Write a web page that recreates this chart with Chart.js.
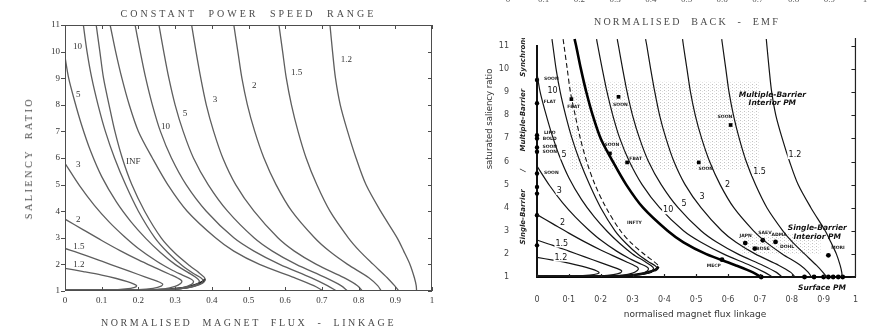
<!DOCTYPE html>
<html>
<head>
<meta charset="utf-8">
<script src="https://cdn.jsdelivr.net/npm/chart.js@4.4.1/dist/chart.umd.min.js"></script>
<style>
  html, body { margin: 0; padding: 0; background: #fff; }
  body { width: 876px; height: 330px; position: relative; overflow: hidden; }
  canvas { position: absolute; top: 0; }
  #left { left: 0; }
  #right { left: 440px; }
  .cap { position: absolute; white-space: nowrap; font-family: "Liberation Serif", "DejaVu Serif", serif;
         color: #4a4a4a; font-size: 10px; letter-spacing: 2.6px; word-spacing: 5px; line-height: 12px; }
  .sans { font-family: "DejaVu Sans", "Liberation Sans", sans-serif; letter-spacing: 0; word-spacing: 0; color: #333; }
  .rot { transform: translate(-50%, -50%) rotate(-90deg); }
  .cut { position: absolute; top: -6px; width: 30px; text-align: center; font-family: "Liberation Serif", serif;
         font-size: 9px; color: #555; line-height: 10px; }
</style>
</head>
<body>
<canvas id="left" width="440" height="330"></canvas>
<canvas id="right" width="436" height="330"></canvas>

<div class="cap" style="left:65px;width:367px;top:8px;text-align:center;letter-spacing:3px;word-spacing:6px">CONSTANT POWER SPEED RANGE</div>
<div class="cap" style="left:65px;width:367px;top:317px;text-align:center">NORMALISED MAGNET FLUX - LINKAGE</div>
<div class="cap rot" style="left:29px;top:158px">SALIENCY RATIO</div>

<div class="cap" style="left:587px;width:200px;top:16px;text-align:center;letter-spacing:2.2px">NORMALISED BACK - EMF</div>
<div class="cap sans" style="left:595px;width:200px;top:308px;text-align:center;font-size:9px">normalised magnet flux linkage</div>
<div class="cap sans rot" style="left:489px;top:119px;font-size:8.5px">saturated saliency ratio</div>

<script>
// ---- axes ----
const fluxTicks = [0, 0.1, 0.2, 0.3, 0.4, 0.5, 0.6, 0.7, 0.8, 0.9, 1];
const fluxLabelsL = ['0', '0.1', '0.2', '0.3', '0.4', '0.5', '0.6', '0.7', '0.8', '0.9', '1'];
const fluxLabelsR = ['0', '0·1', '0·2', '0·3', '0·4', '0·5', '0·6', '0·7', '0·8', '0·9', '1'];
const ratioTicks = [1, 2, 3, 4, 5, 6, 7, 8, 9, 10, 11];
const cutTopLabels = ['0', '0.1', '0.2', '0.3', '0.4', '0.5', '0.6', '0.7', '0.8', '0.9', '1'];

// ---- CPSR contours, [flux, saliency] ----
// right-hand family (ends on the saliency = 1 line)
const cpsrInf = [[0.118, 11.3], [0.123, 11], [0.138, 10], [0.155, 9], [0.175, 8], [0.2, 7], [0.238, 6], [0.28, 5], [0.333, 4], [0.41, 3], [0.46, 2.5], [0.53, 2], [0.625, 1.5], [0.678, 1.2], [0.704, 1]];
const cpsr10 = [[0.187, 11.3], [0.191, 11], [0.205, 10], [0.22, 9], [0.238, 8], [0.26, 7], [0.29, 6], [0.33, 5], [0.385, 4], [0.46, 3], [0.515, 2.5], [0.585, 2], [0.67, 1.5], [0.715, 1.2], [0.74, 1]];
const cpsr5 = [[0.252, 11.3], [0.256, 11], [0.269, 10], [0.283, 9], [0.3, 8], [0.322, 7], [0.35, 6], [0.39, 5], [0.443, 4], [0.515, 3], [0.565, 2.5], [0.63, 2], [0.71, 1.5], [0.752, 1.2], [0.77, 1]];
const cpsr3 = [[0.341, 11.3], [0.345, 11], [0.357, 10], [0.37, 9], [0.385, 8], [0.405, 7], [0.43, 6], [0.465, 5], [0.515, 4], [0.58, 3], [0.625, 2.5], [0.685, 2], [0.76, 1.5], [0.797, 1.2], [0.81, 1]];
const cpsr2 = [[0.457, 11.3], [0.46, 11], [0.471, 10], [0.482, 9], [0.497, 8], [0.517, 7], [0.542, 6], [0.575, 5], [0.618, 4], [0.68, 3], [0.72, 2.5], [0.77, 2], [0.828, 1.5], [0.852, 1.2], [0.862, 1]];
const cpsr15 = [[0.58, 11.3], [0.583, 11], [0.593, 10], [0.603, 9], [0.617, 8], [0.635, 7], [0.657, 6], [0.686, 5], [0.722, 4], [0.772, 3], [0.803, 2.5], [0.84, 2], [0.878, 1.5], [0.898, 1.2], [0.91, 1]];
const cpsr12 = [[0.72, 11.3], [0.722, 11], [0.729, 10], [0.737, 9], [0.75, 8], [0.77, 7], [0.793, 6], [0.82, 5], [0.86, 4], [0.905, 3], [0.923, 2.5], [0.94, 2], [0.952, 1.5], [0.957, 1.2], [0.958, 1]];
// left-hand family (starts on the flux = 0 axis, turns back at the nose)
const low12 = [[0, 1.85], [0.05, 1.73], [0.1, 1.6], [0.14, 1.47], [0.17, 1.35], [0.188, 1.26], [0.195, 1.2], [0.19, 1.14], [0.165, 1.08], [0.12, 1.04], [0.06, 1.03], [0, 1.03]];
const low15 = [[0, 2.6], [0.05, 2.37], [0.1, 2.12], [0.15, 1.87], [0.2, 1.62], [0.235, 1.45], [0.258, 1.33], [0.266, 1.26], [0.262, 1.18], [0.24, 1.1], [0.2, 1.05], [0.12, 1.03], [0, 1.03]];
const low2 = [[0, 3.7], [0.05, 3.3], [0.1, 2.9], [0.15, 2.52], [0.2, 2.17], [0.25, 1.85], [0.285, 1.63], [0.308, 1.48], [0.318, 1.38], [0.315, 1.28], [0.3, 1.17], [0.27, 1.08], [0.22, 1.04], [0.12, 1.03], [0, 1.03]];
const low3 = [[0, 5.8], [0.04, 4.95], [0.08, 4.22], [0.12, 3.6], [0.16, 3.07], [0.2, 2.6], [0.25, 2.12], [0.29, 1.8], [0.32, 1.6], [0.343, 1.45], [0.35, 1.36], [0.345, 1.25], [0.325, 1.14], [0.29, 1.07], [0.24, 1.04], [0.12, 1.03], [0, 1.03]];
const low5 = [[0, 9.8], [0.01, 9.0], [0.025, 8.2], [0.045, 7.25], [0.07, 6.25], [0.1, 5.3], [0.14, 4.35], [0.18, 3.6], [0.22, 2.98], [0.26, 2.45], [0.3, 2.0], [0.335, 1.7], [0.358, 1.5], [0.366, 1.38], [0.36, 1.26], [0.338, 1.15], [0.3, 1.07], [0.25, 1.04], [0.12, 1.03], [0, 1.03]];
const low10 = [[0.047, 11.3], [0.05, 11], [0.06, 10], [0.073, 9], [0.09, 8], [0.11, 7], [0.135, 6], [0.165, 5], [0.2, 4], [0.245, 3], [0.28, 2.45], [0.32, 1.95], [0.35, 1.66], [0.37, 1.5], [0.376, 1.4], [0.37, 1.28], [0.347, 1.16], [0.31, 1.08], [0.26, 1.04], [0.12, 1.03], [0, 1.03]];
const lowDash = [[0.082, 11.3], [0.085, 11], [0.095, 10], [0.105, 9], [0.12, 8], [0.136, 7], [0.156, 6], [0.182, 5], [0.217, 4], [0.262, 3], [0.3, 2.42], [0.34, 1.95], [0.364, 1.7], [0.379, 1.52], [0.382, 1.42], [0.375, 1.29], [0.352, 1.17], [0.315, 1.09], [0.265, 1.04], [0.12, 1.03], [0, 1.03]];
const noseBase = [[0, 1.02], [0.1, 1.02], [0.2, 1.025], [0.26, 1.04], [0.3, 1.08], [0.335, 1.15], [0.36, 1.25], [0.375, 1.35], [0.382, 1.45]];

// ---- motor designs plotted on the right-hand chart ----
const axisDots = [[0, 9.53], [0, 8.52], [0, 7.14], [0, 7.0], [0, 6.61], [0, 6.42], [0, 5.48], [0, 4.9], [0, 4.61], [0, 3.67], [0, 2.37]];
const boxMarks = [[0.108, 8.7], [0.256, 8.8], [0.229, 6.35], [0.283, 5.96], [0.508, 5.96], [0.608, 7.58]];
const motorDots = [[0.581, 1.75], [0.654, 2.47], [0.709, 2.59], [0.684, 2.23], [0.749, 2.52], [0.915, 1.94], [0.704, 1.0],
                   [0.84, 1], [0.87, 1], [0.9, 1], [0.915, 1], [0.93, 1], [0.946, 1], [0.96, 1]];
const stippleZones = [[0.1, 0.7, 5.65, 9.45], [0.64, 0.89, 2.0, 2.85]];

// ---- text on the plots: [text, flux, saliency] ----
const leftCurveLabels = [['10', 0.034, 10.19], ['5', 0.036, 8.37], ['3', 0.036, 5.74], ['2', 0.036, 3.67], ['1.5', 0.038, 2.67], ['1.2', 0.038, 1.98],
  ['INF', 0.186, 5.86], ['10', 0.274, 7.18], ['5', 0.327, 7.68], ['3', 0.409, 8.18], ['2', 0.516, 8.71], ['1.5', 0.631, 9.21], ['1.2', 0.767, 9.68]];
const rightCurveLabels = [['10', 0.049, 9.06], ['5', 0.085, 6.27], ['3', 0.07, 4.73], ['2', 0.08, 3.34], ['1.5', 0.078, 2.45], ['1.2', 0.075, 1.84],
  ['10', 0.412, 3.89], ['5', 0.462, 4.15], ['3', 0.518, 4.47], ['2', 0.598, 4.97], ['1.5', 0.699, 5.55], ['1.2', 0.81, 6.28]];
const regionLabels = [['Multiple-Barrier', 0.739, 8.88], ['Interior PM', 0.739, 8.53], ['Single-Barrier', 0.88, 3.1], ['Interior PM', 0.88, 2.73], ['Surface PM', 0.895, 0.54]];
const designLabels = [['SOON', 0.045, 9.6], ['FLAT', 0.04, 8.6], ['LIPO', 0.04, 7.22], ['BOLD', 0.04, 6.98], ['SOON', 0.04, 6.64], ['SOON', 0.04, 6.4], ['SOON', 0.045, 5.5],
  ['FBAT', 0.115, 8.35], ['SOON', 0.262, 8.45], ['SOON', 0.235, 6.72], ['FBAT', 0.31, 6.12], ['SOON', 0.53, 5.7], ['SOON', 0.59, 7.95],
  ['MECP', 0.555, 1.48], ['JAPN', 0.655, 2.78], ['SAEV', 0.716, 2.93], ['BOSE', 0.71, 2.2], ['ADMA', 0.76, 2.82], ['DOHL', 0.785, 2.3], ['MORI', 0.945, 2.28],
  ['INFTY', 0.306, 3.34]];
const axisText = [['Single-Barrier', 3.6], ['/', 5.62], ['Multiple-Barrier', 7.79]];

const SERIF = '"Liberation Serif", "DejaVu Serif", serif';
const SANS = '"DejaVu Sans", "Liberation Sans", sans-serif';

const pts = arr => arr.map(([x, y]) => ({ x, y }));

// top strip: tick labels of the plot above, cut by the page edge
cutTopLabels.forEach((t, i) => {
  const s = document.createElement('div');
  s.className = 'cut';
  s.style.left = (508 + i * 35.7 - 15) + 'px';
  s.textContent = t;
  document.body.appendChild(s);
});

function line(arr, color, width, dash) {
  return { data: pts(arr), showLine: true, borderColor: color, borderWidth: width, borderDash: dash || [],
           pointRadius: 0, tension: 0.3, fill: false };
}

function textPlugin(id, items, font, color, knockout) {
  return {
    id: id,
    afterDatasetsDraw(chart) {
      const { ctx, scales: { x, y } } = chart;
      ctx.save();
      ctx.font = font;
      ctx.textAlign = 'center';
      ctx.textBaseline = 'middle';
      items.forEach(([t, fx, fy]) => {
        const px = x.getPixelForValue(fx), py = y.getPixelForValue(fy);
        if (knockout) {
          const w = ctx.measureText(t).width;
          ctx.fillStyle = '#fff';
          ctx.fillRect(px - w / 2 - 1, py - 4, w + 2, 8);
        }
        ctx.fillStyle = color;
        ctx.fillText(t, px, py);
      });
      ctx.restore();
    }
  };
}

const leftFrame = {
  id: 'leftFrame',
  afterDraw(chart) {
    const { ctx, chartArea: a, scales: { x, y } } = chart;
    ctx.save();
    ctx.strokeStyle = '#4d4d4d';
    ctx.lineWidth = 1;
    ctx.strokeRect(a.left + 0.5, a.top + 0.5, a.right - a.left - 1, a.bottom - a.top - 1);
    ctx.beginPath();
    fluxTicks.forEach(v => {
      const px = Math.round(x.getPixelForValue(v)) + 0.5;
      ctx.moveTo(px, a.top); ctx.lineTo(px, a.top + 4);
      ctx.moveTo(px, a.bottom); ctx.lineTo(px, a.bottom - 4);
    });
    ratioTicks.forEach(v => {
      const py = Math.round(y.getPixelForValue(v)) + 0.5;
      ctx.moveTo(a.left - 4, py); ctx.lineTo(a.left, py);
      ctx.moveTo(a.right, py); ctx.lineTo(a.right - 4, py);
    });
    ctx.stroke();
    ctx.restore();
  }
};

function stipplePattern(ctx) {
  const c = document.createElement('canvas');
  c.width = 4; c.height = 3;
  const g = c.getContext('2d');
  g.fillStyle = '#c2c2c2';
  g.fillRect(0, 0, 1, 1);
  g.fillStyle = '#e2e2e2';
  g.fillRect(2, 1, 1, 1);
  return ctx.createPattern(c, 'repeat');
}

const rightFrame = {
  id: 'rightFrame',
  beforeDatasetsDraw(chart) {
    const { ctx, scales: { x, y } } = chart;
    ctx.save();
    ctx.fillStyle = stipplePattern(ctx);
    stippleZones.forEach(([x0, x1, y0, y1]) => {
      const l = x.getPixelForValue(x0), r = x.getPixelForValue(x1);
      const t = y.getPixelForValue(y1), b = y.getPixelForValue(y0);
      ctx.fillRect(l, t, r - l, b - t);
    });
    ctx.restore();
  },
  afterDraw(chart) {
    const { ctx, chartArea: a, scales: { x, y } } = chart;
    ctx.save();
    ctx.strokeStyle = '#222';
    ctx.lineWidth = 1.2;
    ctx.beginPath();
    ctx.moveTo(a.right, a.top - 8); ctx.lineTo(a.right, a.bottom);
    ratioTicks.forEach(v => {
      const py = Math.round(y.getPixelForValue(v)) + 0.5;
      ctx.moveTo(a.right, py); ctx.lineTo(a.right - 4, py);
    });
    fluxTicks.forEach(v => {
      const px = Math.round(x.getPixelForValue(v)) + 0.5;
      ctx.moveTo(px, a.bottom); ctx.lineTo(px, a.bottom - 3);
    });
    ctx.stroke();
    // design-family names written up the saliency axis
    ctx.fillStyle = '#222';
    ctx.font = 'italic bold 7px ' + SANS;
    ctx.textBaseline = 'middle';
    const ax = a.left - 14;
    axisText.forEach(([t, fy]) => {
      ctx.save();
      ctx.translate(ax, y.getPixelForValue(fy));
      ctx.rotate(-Math.PI / 2);
      ctx.textAlign = 'center';
      ctx.fillText(t, 0, 0);
      ctx.restore();
    });
    ctx.save();
    ctx.beginPath();
    ctx.rect(ax - 6, a.top - 8, 12, a.bottom);
    ctx.clip();
    ctx.translate(ax, y.getPixelForValue(9.67));
    ctx.rotate(-Math.PI / 2);
    ctx.textAlign = 'left';
    ctx.fillText('Synchronous', 0, 0);
    ctx.restore();
    ctx.restore();
  }
};

function axisOpts(ticks, labels, font, color, pad, size, isY, border) {
  return {
    type: 'linear', min: ticks[0], max: ticks[ticks.length - 1],
    afterBuildTicks: s => { s.ticks = ticks.map(v => ({ value: v })); },
    ticks: { callback: (v, i) => labels[i], color: color, font: font, padding: pad, maxRotation: 0, autoSkip: false },
    grid: { display: false, drawTicks: false },
    border: border,
    afterFit: s => { if (isY) s.width = size; else s.height = size; }
  };
}

// ---- left chart ----
const leftColor = '#5e5e5e';
const leftSets = [cpsrInf, cpsr10, cpsr5, cpsr3, cpsr2, cpsr15, cpsr12, low12, low15, low2, low3, low5, low10, lowDash]
  .map(c => line(c, leftColor, 1.3));
leftSets.push(line(noseBase, '#111', 2.2));

new Chart(document.getElementById('left'), {
  type: 'scatter',
  data: { datasets: leftSets },
  options: {
    responsive: false, animation: false, events: [],
    layout: { padding: { left: 0, right: 8, top: 25, bottom: 0 } },
    plugins: { legend: { display: false }, tooltip: { enabled: false } },
    scales: {
      x: axisOpts(fluxTicks, fluxLabelsL, { family: SERIF, size: 9 }, '#333', 4, 39, false, { display: false }),
      y: axisOpts(ratioTicks, ratioTicks.map(String), { family: SERIF, size: 9 }, '#333', 5, 65, true, { display: false })
    }
  },
  plugins: [leftFrame, textPlugin('leftText', leftCurveLabels, '9px ' + SERIF, '#333', false)]
});

// ---- right chart ----
const rightColor = '#151515';
const rightSets = [cpsr10, cpsr5, cpsr3, cpsr2, cpsr15, cpsr12, low12, low15, low2, low3, low5, low10]
  .map(c => line(c, rightColor, 1.2));
rightSets.push(line(lowDash, rightColor, 1.1, [5, 3]));
rightSets.push(line(cpsrInf, '#000', 2.6));
rightSets.push(line(noseBase, '#000', 2.4));
rightSets.forEach(s => { s.clip = { left: 2, top: 10, right: 0, bottom: 2 }; });
const marks = (arr, style, r) => ({ data: pts(arr), showLine: false, pointStyle: style, pointRadius: r,
  pointBackgroundColor: '#000', backgroundColor: '#000', pointBorderWidth: 0, borderWidth: 0, clip: false });
rightSets.push(marks(axisDots, 'circle', 2.2));
rightSets.push(marks(boxMarks, 'rect', 2.6));
rightSets.push(marks(motorDots, 'circle', 2.4));

new Chart(document.getElementById('right'), {
  type: 'scatter',
  data: { datasets: rightSets },
  options: {
    responsive: false, animation: false, events: [],
    layout: { padding: { left: 0, right: 8, top: 46, bottom: 0 } },
    plugins: { legend: { display: false }, tooltip: { enabled: false } },
    scales: {
      x: axisOpts(fluxTicks, fluxLabelsR, { family: SANS, size: 8 }, '#444', 18, 53, false, { width: 2, color: '#111' }),
      y: axisOpts(ratioTicks, ratioTicks.map(String), { family: SANS, size: 8 }, '#444', 28, 97, true, { width: 2, color: '#111' })
    }
  },
  plugins: [rightFrame,
    textPlugin('rightText', rightCurveLabels, '8px ' + SANS, '#111', true),
    textPlugin('regionText', regionLabels, 'italic bold 7.5px ' + SANS, '#111', false),
    textPlugin('designText', designLabels, 'bold 4.5px ' + SANS, '#222', false)]
});
</script>
</body>
</html>
